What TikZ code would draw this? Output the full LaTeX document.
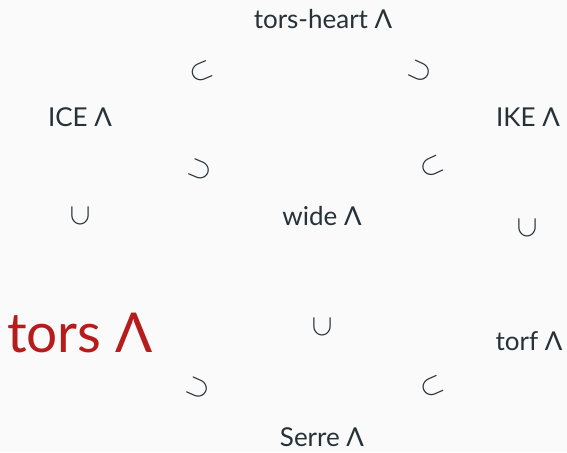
\documentclass[tikz,border=0pt]{standalone}
\usepackage{graphicx}
\usepackage{fontspec}
\setmainfont{Lato}
\definecolor{bg}{HTML}{FAFAFA}
\definecolor{ink}{HTML}{263238}
\definecolor{redink}{HTML}{B71C1C}
\newcommand{\mysub}{\scalebox{1.45}{$\subset$}}
\newcommand{\mysup}{\scalebox{1.45}{$\supset$}}
\begin{document}
\begin{tikzpicture}[x=1pt,y=1pt,
  lbl/.style={text=ink,font=\fontsize{26}{28}\selectfont,inner sep=0pt},
  big/.style={text=redink,font=\fontsize{55}{58}\selectfont,inner sep=0pt},
  rel/.style={text=ink,font=\fontsize{20.74}{22}\selectfont,inner sep=0pt}]
\fill[bg] (0,0) rectangle (567,452);
\useasboundingbox (0,0) rectangle (567,452);
\node[lbl] (th) at (323,433) {tors-heart Λ};
\node[lbl] (ice) at (80,335) {ICE Λ};
\node[lbl] (ike) at (528,335) {IKE Λ};
\node[lbl] (wide) at (322,236) {wide Λ};
\node[big] (tors) at (80,119) {tors Λ};
\node[lbl] (torf) at (529,111) {torf Λ};
\node[lbl] (serre) at (322,15) {Serre Λ};
\node[rel,rotate=23] (r1) at (201,380) {\mysub};
\node[rel,rotate=-25] (r2) at (420,380) {\mysup};
\node[rel,rotate=-23] (r3) at (200,282) {\mysup};
\node[rel,rotate=25] (r4) at (432,285) {\mysub};
\node[rel,rotate=90] (r5) at (80,236) {\mysub};
\node[rel,rotate=90] (r6) at (527,224) {\mysub};
\node[rel,rotate=90] (r7) at (322,125) {\mysub};
\node[rel,rotate=-24] (r8) at (198,64) {\mysup};
\node[rel,rotate=24] (r9) at (432,65) {\mysub};
\end{tikzpicture}
\end{document}
